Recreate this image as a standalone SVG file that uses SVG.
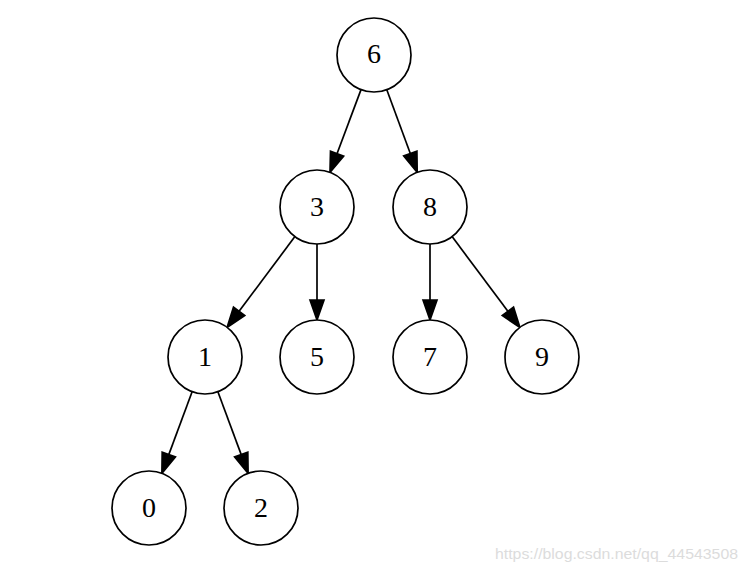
<svg xmlns="http://www.w3.org/2000/svg" width="747" height="574" viewBox="0 0 747 574">
<style>
.node circle{fill:#fff;stroke:#000;stroke-width:1.7}
.node text{font-family:"Liberation Serif","Times New Roman",serif;font-size:28px;fill:#000;text-anchor:middle}
.edge line{stroke:#000;stroke-width:1.7}
.edge polygon{fill:#000;stroke:#000;stroke-width:1.7}
.wm{font-family:"Liberation Sans",Arial,sans-serif;font-size:14px;fill:#dcdcdc}
</style>
<rect width="747" height="574" fill="#fff"/>
<g id="edges" class="edge">
<line x1="361" y1="89.6" x2="337" y2="153.7"/>
<polygon points="343.6,156.2 330,172.4 330.5,151.2"/>
<line x1="386.8" y1="89.7" x2="410.3" y2="153.5"/>
<polygon points="416.9,151.1 417.2,172.3 403.7,155.9"/>
<line x1="294.9" y1="236.6" x2="239.1" y2="311.3"/>
<polygon points="244.7,315.5 227.1,327.4 233.5,307.1"/>
<line x1="317" y1="244" x2="317" y2="300"/>
<polygon points="310,300 317,320 324,300"/>
<line x1="430" y1="244" x2="430" y2="300"/>
<polygon points="423,300 430,320 437,300"/>
<line x1="452.1" y1="236.6" x2="507.9" y2="311.3"/>
<polygon points="513.5,307.1 519.9,327.4 502.3,315.5"/>
<line x1="192.1" y1="391.7" x2="168.8" y2="454.6"/>
<polygon points="175.4,457 161.9,473.3 162.2,452.2"/>
<line x1="217.9" y1="391.7" x2="241.2" y2="454.6"/>
<polygon points="247.8,452.2 248.1,473.3 234.6,457"/>
</g>
<g id="n6" class="node"><circle cx="374" cy="55" r="37"/><text x="374" y="63">6</text></g>
<g id="n3" class="node"><circle cx="317" cy="207" r="37"/><text x="317" y="216">3</text></g>
<g id="n8" class="node"><circle cx="430" cy="207" r="37"/><text x="430" y="216">8</text></g>
<g id="n1" class="node"><circle cx="205" cy="357" r="37"/><text x="205" y="366">1</text></g>
<g id="n5" class="node"><circle cx="317" cy="357" r="37"/><text x="317" y="366">5</text></g>
<g id="n7" class="node"><circle cx="430" cy="357" r="37"/><text x="430" y="366">7</text></g>
<g id="n9" class="node"><circle cx="542" cy="357" r="37"/><text x="542" y="366">9</text></g>
<g id="n0" class="node"><circle cx="149" cy="508" r="37"/><text x="149" y="517">0</text></g>
<g id="n2" class="node"><circle cx="261" cy="508" r="37"/><text x="261" y="517">2</text></g>
<text class="wm" x="495" y="559" textLength="243" lengthAdjust="spacingAndGlyphs">https://blog.csdn.net/qq_44543508</text>
</svg>
